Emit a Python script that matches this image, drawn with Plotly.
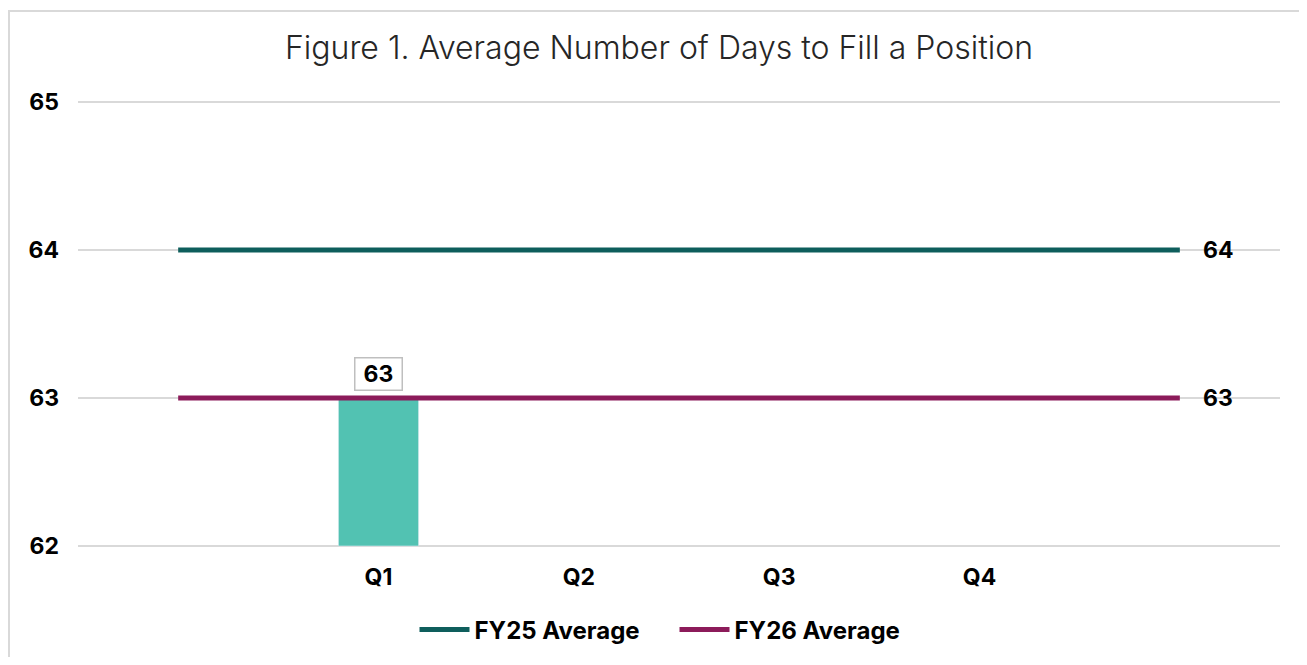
import plotly.graph_objects as go

# ---- data ----
quarters = ["Q1", "Q2", "Q3", "Q4"]
fy26_quarterly = [63, None, None, None]
fy25_average = 64
fy26_average = 63
y_ticks = [62, 63, 64, 65]
title_text = "Figure 1. Average Number of Days to Fill a Position"

# padding categories so that the average lines run past the quarters
pad_left, pad_right = "\u200b", "\u200b\u200b"
all_cats = [pad_left] + quarters + [pad_right]

# page has an 8px body margin; figure sized to fit inside it
W, H = 1291, 649
EXT = 0.014  # small range extension so edge gridlines are drawn
PX_PER_UNIT = 148
ML, MR = 70, 19
MT = 94 - round(EXT * PX_PER_UNIT)
MB = 111 - round(EXT * PX_PER_UNIT)
pw, ph = W - ML - MR, H - MT - MB

FONT = "Inter"
TEAL_BAR = "#52C2B2"
FY25_COL = "#0E5E5C"
FY26_COL = "#8C1B5A"
GRID = "#D9D9D9"
FS = 23

fig = go.Figure()
fig.add_trace(go.Bar(
    x=quarters, y=[None if v is None else v - y_ticks[0] for v in fy26_quarterly],
    base=y_ticks[0], marker_color=TEAL_BAR, width=0.4, showlegend=False,
    hoverinfo="skip",
))
fig.add_trace(go.Scatter(
    x=all_cats, y=[fy25_average] * len(all_cats), mode="lines",
    line=dict(color=FY25_COL, width=5), name="FY25 Average", hoverinfo="skip",
))
fig.add_trace(go.Scatter(
    x=all_cats, y=[fy26_average] * len(all_cats), mode="lines",
    line=dict(color=FY26_COL, width=5), name="FY26 Average", hoverinfo="skip",
))

annotations = []
for q, v in zip(quarters, fy26_quarterly):
    if v is not None:
        annotations.append(dict(
            x=q, y=v, text=f"<b>{v}</b>", showarrow=False, yanchor="bottom",
            yshift=7, width=44, height=29, align="center", valign="middle",
            font=dict(family=FONT, size=FS, color="#000000"),
            bordercolor="#BFBFBF", borderwidth=1.5, borderpad=1,
            bgcolor="#FFFFFF",
        ))
for v in (fy25_average, fy26_average):
    annotations.append(dict(
        x=pad_right, y=v, text=f"<b>{v}</b>", showarrow=False,
        xanchor="left", xshift=21, font=dict(family=FONT, size=FS, color="#000000"),
    ))

# outer chart border (left and top edges visible, continuing past the page)
shapes = [dict(
    type="rect", xref="paper", yref="paper",
    x0=(1 - ML) / pw, x1=(W + 30 - ML) / pw,
    y0=(H - MB - (H + 30)) / ph, y1=(H - MB - 3) / ph,
    line=dict(color=GRID, width=2), fillcolor="rgba(0,0,0,0)", layer="below",
)]

fig.update_layout(
    width=W, height=H,
    margin=dict(l=ML, r=MR, t=MT, b=MB, pad=0),
    paper_bgcolor="#FFFFFF", plot_bgcolor="#FFFFFF",
    title=dict(text=title_text, x=(659 - 8) / W, xanchor="center", xref="container",
               y=1 - 40 / H, yanchor="middle", yref="container",
               font=dict(family=FONT, size=32, color="#262626", weight=300)),
    xaxis=dict(type="category", categoryorder="array", categoryarray=all_cats,
               range=[-0.5, len(all_cats) - 0.5], automargin=False,
               tickvals=quarters, ticktext=quarters, showgrid=False, zeroline=False,
               showline=False, ticks="", ticklabelstandoff=13,
               tickfont=dict(family=FONT, size=FS, color="#000000", weight=700),
               fixedrange=True),
    yaxis=dict(range=[y_ticks[0] - EXT, y_ticks[-1] + EXT], tickvals=y_ticks,
               automargin=False,
               showgrid=True, gridcolor=GRID, gridwidth=2, zeroline=False,
               showline=False, ticks="", ticklabelstandoff=18,
               tickfont=dict(family=FONT, size=FS, color="#000000", weight=700),
               fixedrange=True),
    legend=dict(orientation="h", x=(674.5 - 8) / W, xanchor="center", xref="container",
                y=1 - (630 - 8) / H, yanchor="middle", yref="container",
                font=dict(family=FONT, size=24, color="#000000", weight=700),
                itemwidth=50, tracegroupgap=0, entrywidth=195, entrywidthmode="pixels"),
    annotations=annotations,
    shapes=shapes,
    showlegend=True,
)

fig.write_html("out.html")
